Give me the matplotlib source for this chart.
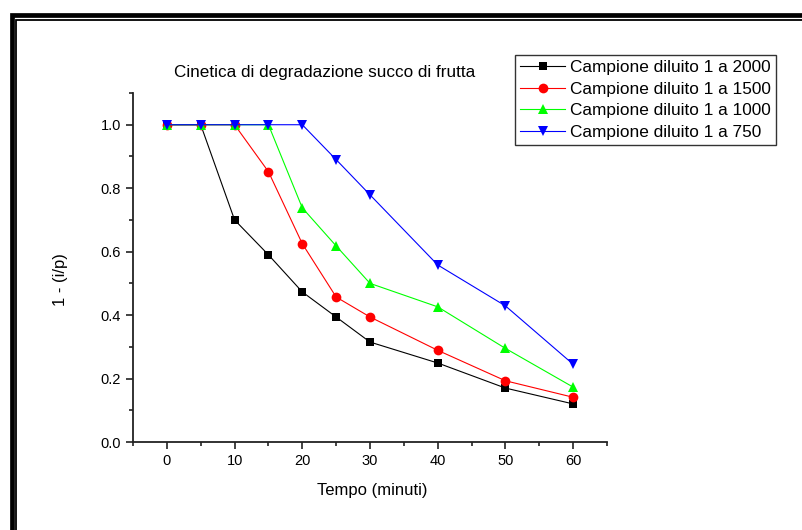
import matplotlib
matplotlib.use("Agg")
import matplotlib.pyplot as plt
from matplotlib.patches import Rectangle

plt.rcParams['font.family'] = ['Liberation Sans', 'DejaVu Sans']

# data
tempo = [0, 5, 10, 15, 20, 25, 30, 40, 50, 60]
diluito_2000 = [1.0, 1.0, 0.70, 0.59, 0.473, 0.394, 0.315, 0.249, 0.170, 0.120]
diluito_1500 = [1.0, 1.0, 1.0, 0.852, 0.625, 0.457, 0.394, 0.289, 0.193, 0.141]
diluito_1000 = [1.0, 1.0, 1.0, 1.0, 0.738, 0.618, 0.500, 0.426, 0.295, 0.173]
diluito_750 = [1.0, 1.0, 1.0, 1.0, 1.0, 0.890, 0.779, 0.558, 0.429, 0.245]

serie = [
    ("Campione diluito 1 a 2000", diluito_2000, "#000000", "s", 6),
    ("Campione diluito 1 a 1500", diluito_1500, "#ff0000", "o", 7),
    ("Campione diluito 1 a 1000", diluito_1000, "#00ff00", "^", 7.5),
    ("Campione diluito 1 a 750", diluito_750, "#0000ff", "v", 7.5),
]

fig = plt.figure(figsize=(8.02, 5.30), dpi=100)
ax = fig.add_axes([133 / 802, 88 / 530, 474 / 802, 349 / 530])

for nome, valori, colore, marker, ms in serie:
    ax.plot(tempo, valori, color=colore, lw=0.8, marker=marker, ms=ms,
            markeredgewidth=0, label=nome)

ax.set_xlim(-5, 65)
ax.set_ylim(0, 1.1)
ax.set_xticks([0, 10, 20, 30, 40, 50, 60])
ax.set_xticks([-5, 5, 15, 25, 35, 45, 55, 65], minor=True)
ax.set_yticks([0.0, 0.2, 0.4, 0.6, 0.8, 1.0])
ax.set_yticks([0.1, 0.3, 0.5, 0.7, 0.9, 1.1], minor=True)
ax.set_yticklabels(["0.0", "0.2", "0.4", "0.6", "0.8", "1.0"])

for lato in ["top", "right"]:
    ax.spines[lato].set_visible(False)
for lato in ["left", "bottom"]:
    ax.spines[lato].set_linewidth(1.3)
    ax.spines[lato].set_color("#222222")

ax.tick_params(which="major", direction="out", length=5, width=1.2, labelsize=10.5, color="#222222")
ax.tick_params(which="minor", direction="out", length=3, width=1.2, color="#222222")

fig.text(325 / 802, 1 - 72 / 530, "Cinetica di degradazione succo di frutta",
         ha="center", va="center", fontsize=12.3)
fig.text(372 / 802, 1 - 491 / 530, "Tempo (minuti)", ha="center", va="center", fontsize=12)
fig.text(60 / 802, 1 - 280 / 530, "1 - (i/p)", ha="center", va="center",
         rotation=90, fontsize=12)

leg = fig.legend(loc="upper left", bbox_to_anchor=(515 / 802, 1 - 55 / 530),
                 frameon=True, fancybox=False, fontsize=12.4, handlelength=2.6,
                 handletextpad=0.3, labelspacing=0.38, borderpad=0.3,
                 borderaxespad=0)
leg.get_frame().set_edgecolor("black")
leg.get_frame().set_linewidth(1.0)

# cornice doppia in alto e a sinistra
fig.patches.append(Rectangle((11.5 / 802, -0.1), 1.2, 1 - 15.3 / 530 + 0.1,
                             transform=fig.transFigure, fill=False,
                             edgecolor="black", linewidth=3.4))
fig.patches.append(Rectangle((16.3 / 802, -0.1), 1.2, 1 - 20 / 530 + 0.1,
                             transform=fig.transFigure, fill=False,
                             edgecolor="black", linewidth=1.3))

fig.savefig("out.png", dpi=100)
